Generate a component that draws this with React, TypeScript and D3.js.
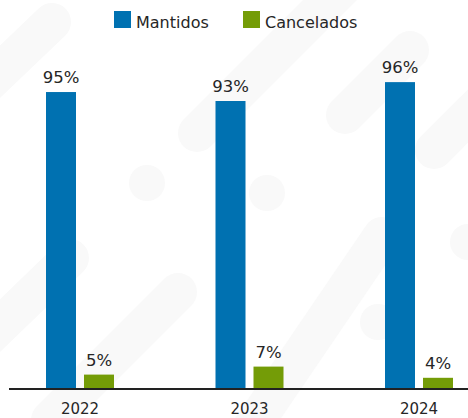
import React, { useEffect, useRef } from "react";
import * as d3 from "d3";

// data
const years = ["2022", "2023", "2024"];
const series = ["Mantidos", "Cancelados"];
const mantidos = [92.8, 90.0, 95.9];
const cancelados = [4.5, 7.0, 3.5];
const mantidosLabels = ["95%", "93%", "96%"];
const canceladosLabels = ["5%", "7%", "4%"];
const colors = ["#0071b1", "#749c07"];

// faint decorative background capsules
const capsules = [
  [-40, 110, 52, 22],
  [197, 133, 360, -30],
  [345, 115, 410, 50],
  [434, 150, 520, 64],
  [-20, 345, 70, 258],
  [50, 420, 178, 292],
  [250, 430, 382, 236],
];
const dots = [
  [147, 183],
  [267, 193],
  [378, 322],
  [468, 242],
];

export default function App() {
  const ref = useRef<SVGSVGElement | null>(null);

  useEffect(() => {
    const svg = d3.select(ref.current);
    svg.selectAll("*").remove();
    const width = 468;
    const baseY = 389;
    const font = "'DejaVu Sans', sans-serif";
    const textColor = "#262626";

    // background
    const bg = svg.append("g");
    bg.selectAll("line")
      .data(capsules)
      .join("line")
      .attr("x1", (d) => d[0])
      .attr("y1", (d) => d[1])
      .attr("x2", (d) => d[2])
      .attr("y2", (d) => d[3])
      .attr("stroke", "#f9f9f9")
      .attr("stroke-width", 38)
      .attr("stroke-linecap", "round");
    bg.selectAll("circle")
      .data(dots)
      .join("circle")
      .attr("cx", (d) => d[0])
      .attr("cy", (d) => d[1])
      .attr("r", 18)
      .attr("fill", "#f9f9f9");

    const x = d3.scalePoint().domain(years).range([80, 419]);
    const xs = d3.scaleBand().domain(series).range([-34, 34]).paddingInner(8 / 38);
    const y = d3.scaleLinear().domain([0, 100]).range([baseY, baseY - 320]);
    const color = d3.scaleOrdinal<string>().domain(series).range(colors);

    const rows = years.map((yr, i) => ({
      year: yr,
      values: [
        { key: series[0], v: mantidos[i], label: mantidosLabels[i] },
        { key: series[1], v: cancelados[i], label: canceladosLabels[i] },
      ],
    }));

    const groups = svg
      .append("g")
      .selectAll("g")
      .data(rows)
      .join("g")
      .attr("transform", (d) => `translate(${x(d.year)},0)`);

    groups
      .selectAll("rect")
      .data((d) => d.values)
      .join("rect")
      .attr("x", (d) => xs(d.key)!)
      .attr("width", xs.bandwidth())
      .attr("y", (d) => y(d.v))
      .attr("height", (d) => baseY - y(d.v))
      .attr("fill", (d) => color(d.key));

    groups
      .selectAll("text.val")
      .data((d) => d.values)
      .join("text")
      .attr("class", "val")
      .attr("x", (d) => xs(d.key)! + xs.bandwidth() / 2)
      .attr("y", (d) => y(d.v) - 9)
      .attr("text-anchor", "middle")
      .attr("font-family", font)
      .attr("font-size", 16.5)
      .attr("fill", textColor)
      .text((d) => d.label);

    // baseline
    svg.append("line")
      .attr("x1", 9)
      .attr("x2", width)
      .attr("y1", baseY)
      .attr("y2", baseY)
      .attr("stroke", "#222")
      .attr("stroke-width", 2);

    // year labels
    svg.append("g")
      .selectAll("text")
      .data(years)
      .join("text")
      .attr("x", (d) => x(d)!)
      .attr("y", 414)
      .attr("text-anchor", "middle")
      .attr("font-family", font)
      .attr("font-size", 15)
      .attr("fill", textColor)
      .text((d) => d);

    // legend
    const legendX = [114, 243];
    const legend = svg
      .append("g")
      .selectAll("g")
      .data(series)
      .join("g")
      .attr("transform", (d, i) => `translate(${legendX[i]},11)`);
    legend.append("rect")
      .attr("width", 17)
      .attr("height", 17)
      .attr("fill", (d) => color(d));
    legend.append("text")
      .attr("x", 22)
      .attr("y", 16.5)
      .attr("font-family", font)
      .attr("font-size", 16)
      .attr("fill", textColor)
      .text((d) => d);
  }, []);

  return (
    <svg
      ref={ref}
      width={468}
      height={418}
      style={{ position: "absolute", left: 0, top: 0, background: "#fff" }}
    />
  );
}
